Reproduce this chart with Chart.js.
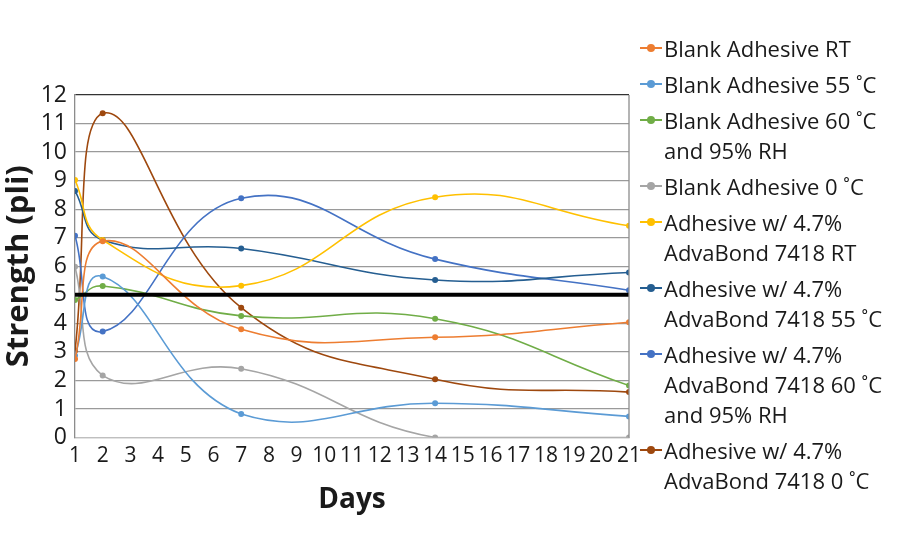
<!DOCTYPE html>
<html>
<head>
<meta charset="utf-8">
<script src="https://cdn.jsdelivr.net/npm/chart.js@4.4.0/dist/chart.umd.min.js"></script>
<style>
  html, body { margin: 0; padding: 0; background: #fff; }
  #wrap { position: relative; width: 900px; height: 550px; }
  #legend { position: absolute; left: 640px; top: 33px; font-family: 'Open Sans', sans-serif; font-size: 22px; color: #1a1a1a; }
  .item { display: flex; align-items: flex-start; margin-bottom: 6px; }
  .mark { position: relative; width: 22px; height: 30px; margin-right: 2px; flex: none; }
  .mark i { position: absolute; left: 0; right: 0; top: 14px; height: 2px; }
  .mark b { position: absolute; left: 7px; top: 11px; width: 8px; height: 8px; border-radius: 50%; }
  .txt div { line-height: 30px; white-space: nowrap; }
</style>
</head>
<body>
<div id="wrap">
  <canvas id="chart" width="900" height="550"></canvas>
  <div id="legend"></div>
</div>
<script>
const days = [1, 2, 7, 14, 21];

const blankRT = [2.75, 6.88, 3.79, 3.51, 4.04];
const blank55 = [2.87, 5.64, 0.82, 1.20, 0.74];
const blank60 = [4.82, 5.31, 4.26, 4.16, 1.82];
const blank0 = [5.98, 2.17, 2.41, 0, 0];
const advaRT = [9.02, 6.92, 5.32, 8.42, 7.42];
const adva55 = [8.64, 6.92, 6.62, 5.52, 5.78];
const adva60 = [7.07, 3.71, 8.38, 6.25, 5.16];
const adva0 = [3.04, 11.36, 4.55, 2.04, 1.59];

const targetDays = [1, 21];
const targetLevel = [5, 5];

const seriesNames = [
    ['Blank Adhesive RT'],
    ['Blank Adhesive 55 ˚C'],
    ['Blank Adhesive 60 ˚C', 'and 95% RH'],
    ['Blank Adhesive 0 ˚C'],
    ['Adhesive w/ 4.7%', 'AdvaBond 7418 RT'],
    ['Adhesive w/ 4.7%', 'AdvaBond 7418 55 ˚C'],
    ['Adhesive w/ 4.7%', 'AdvaBond 7418 60 ˚C', 'and 95% RH'],
    ['Adhesive w/ 4.7%', 'AdvaBond 7418 0 ˚C']
];
const seriesValues = [blankRT, blank55, blank60, blank0, advaRT, adva55, adva60, adva0];
const seriesColors = ['#ED7D31', '#5B9BD5', '#70AD47', '#A5A5A5', '#FFC000', '#255E91', '#4472C4', '#9E480E'];

const yTicks = [0, 12];

const datasets = [{
    label: 'target',
    data: targetDays.map((d, i) => ({ x: d, y: targetLevel[i] })),
    borderColor: '#000',
    borderWidth: 4,
    pointRadius: 0,
    tension: 0
}];
seriesValues.forEach((vals, i) => {
    datasets.push({
        label: seriesNames[i].join(' '),
        data: days.map((d, j) => ({ x: d, y: vals[j] })),
        borderColor: seriesColors[i],
        backgroundColor: seriesColors[i],
        borderWidth: 1.6,
        pointRadius: 3,
        pointBorderWidth: 0,
        tension: 0.45
    });
});

// right edge of the plot box
const frame = {
    id: 'frame',
    afterDraw(chart) {
        const { ctx, chartArea: a } = chart;
        ctx.save();
        ctx.strokeStyle = '#8c8c8c';
        ctx.lineWidth = 1.3;
        ctx.beginPath();
        ctx.moveTo(a.right, a.top);
        ctx.lineTo(a.right, a.bottom);
        ctx.stroke();
        ctx.restore();
    }
};

new Chart(document.getElementById('chart').getContext('2d'), {
    type: 'line',
    data: { datasets },
    plugins: [frame],
    options: {
        responsive: false,
        animation: false,
        layout: { padding: { top: 95, right: 271, bottom: 0, left: 0 } },
        plugins: { legend: { display: false }, tooltip: { enabled: false } },
        scales: {
            x: {
                type: 'linear',
                min: days[0],
                max: days[days.length - 1],
                ticks: {
                    stepSize: 1,
                    autoSkip: false,
                    maxRotation: 0,
                    minRotation: 0,
                    padding: 6,
                    color: '#1a1a1a',
                    font: { family: "'Liberation Sans Narrow', 'Open Sans', sans-serif", size: 21 }
                },
                grid: { display: false, drawTicks: false },
                border: { display: true, color: '#bfbfbf', width: 1.3 },
                title: {
                    display: true,
                    text: 'Days',
                    color: '#1a1a1a',
                    font: { family: "'Open Sans', sans-serif", size: 28, weight: 'bold' },
                    padding: { top: 0, bottom: 33 }
                },
                afterFit(s) { s.height = 112.5; }
            },
            y: {
                min: yTicks[0],
                max: yTicks[1],
                ticks: {
                    stepSize: 1,
                    autoSkip: false,
                    padding: 8,
                    color: '#1a1a1a',
                    font: { family: "'Open Sans', sans-serif", size: 23 }
                },
                grid: {
                    drawTicks: false,
                    lineWidth: 1.3,
                    color: c => c.tick.value === yTicks[1] ? '#333' : (c.tick.value === 0 ? '#bfbfbf' : '#9a9a9a')
                },
                border: { display: true, color: '#8c8c8c', width: 1.3 },
                title: {
                    display: true,
                    text: 'Strength (pli)',
                    color: '#1a1a1a',
                    font: { family: "'Open Sans', sans-serif", size: 31, weight: 'bold' },
                    padding: { top: 1, bottom: 0 }
                },
                afterFit(s) { s.width = 75; }
            }
        }
    }
});

// legend with wrapped labels
const legend = document.getElementById('legend');
seriesNames.forEach((lines, i) => {
    const item = document.createElement('div');
    item.className = 'item';
    const mark = document.createElement('div');
    mark.className = 'mark';
    mark.innerHTML = '<i style="background:' + seriesColors[i] + '"></i><b style="background:' + seriesColors[i] + '"></b>';
    const txt = document.createElement('div');
    txt.className = 'txt';
    lines.forEach(l => {
        const d = document.createElement('div');
        d.textContent = l;
        txt.appendChild(d);
    });
    item.appendChild(mark);
    item.appendChild(txt);
    legend.appendChild(item);
});
</script>
</body>
</html>
